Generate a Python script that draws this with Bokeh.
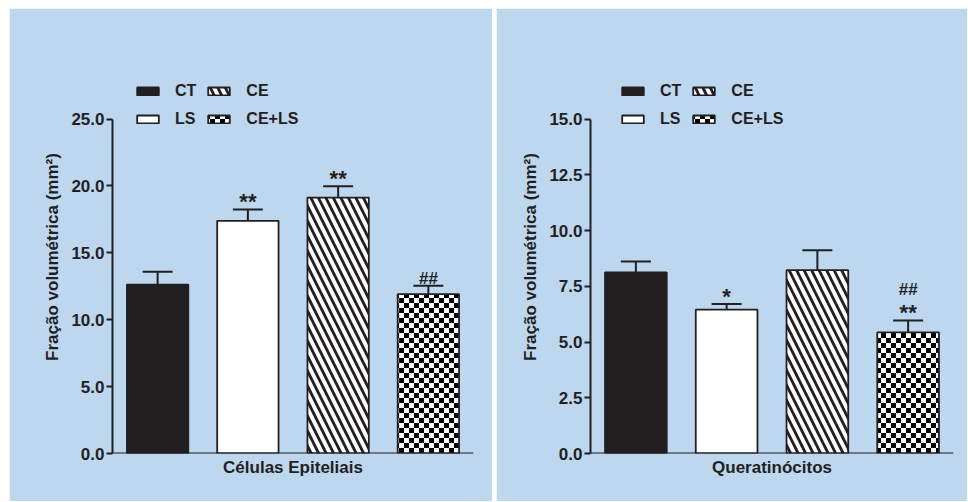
import base64
from bokeh.plotting import figure
from bokeh.layouts import row
from bokeh.models import (ColumnDataSource, FactorRange, Range1d, FixedTicker,
                          NumeralTickFormatter, Legend, LegendItem, Whisker,
                          TeeHead, ImageURLTexture, Span, Title)
from bokeh.core.properties import value
from bokeh.embed import file_html
from bokeh.resources import INLINE

# ---------------- data ----------------
groups = ["CT", "LS", "CE", "CE+LS"]
epit_values = [12.63, 17.39, 19.13, 11.92]
epit_errors = [0.95, 0.84, 0.85, 0.62]
epit_stars = ["", "**", "**", ""]
epit_hashes = ["", "", "", "##"]
epit_ticks = [0, 5, 10, 15, 20, 25]

querat_values = [8.12, 6.45, 8.22, 5.43]
querat_errors = [0.49, 0.25, 0.90, 0.53]
querat_stars = ["", "*", "", "**"]
querat_hashes = ["", "", "", "##"]
querat_ticks = [0, 2.5, 5, 7.5, 10, 12.5, 15]

titles = ["Células Epiteliais", "Queratinócitos"]
ylabel = "Fração volumétrica (mm²)"

# ---------------- style ----------------
BG = "#BDD7EE"
INK = "#231F20"
FONT = "Liberation Sans"
fills = [INK, "white", "white", "white"]

svg_tile = ('<svg xmlns="http://www.w3.org/2000/svg" width="10" height="10">'
            '<rect width="10" height="10" fill="white"/>'
            '<rect x="0" y="0" width="5" height="5" fill="black"/>'
            '<rect x="5" y="5" width="5" height="5" fill="black"/></svg>')
chk_url = "data:image/svg+xml;base64," + base64.b64encode(svg_tile.encode()).decode()
hatches = ["blank", "blank", "left_diagonal_line", "chk"]


def make_panel(vals, errs, stars, hashes, ticks, xlabel, width, border_left,
               border_right, legend_x):
    ymax = ticks[-1]
    frame_top_extra = 1.175  # room above axis for legend
    src = ColumnDataSource(dict(
        g=groups, v=vals, e=errs,
        up=[a + b for a, b in zip(vals, errs)],
        s=stars, h=hashes, fill=fills, hatch=hatches,
        hoff=[-31 if s else -7 for s in stars],
    ))
    p = figure(width=width, height=493, output_backend="svg", toolbar_location=None,
               x_range=FactorRange(*groups, range_padding=0),
               y_range=Range1d(0, ymax * frame_top_extra),
               min_border_left=border_left, min_border_right=border_right,
               min_border_top=52, min_border_bottom=48,
               background_fill_color=BG, border_fill_color=BG,
               outline_line_color=BG, outline_line_width=2)
    p.grid.visible = False

    r = p.vbar(x="g", top="v", width=0.68, source=src, fill_color="fill",
               line_color=INK, line_width=1.8,
               hatch_pattern="hatch", hatch_color=INK, hatch_scale=15,
               hatch_weight=2.8,
               hatch_extra={"chk": ImageURLTexture(url=chk_url)})

    w = Whisker(base="g", lower="v", upper="up", source=src, dimension="height",
                line_color=INK, line_width=2,
                upper_head=TeeHead(size=30, line_color=INK, line_width=2),
                lower_head=None)
    p.add_layout(w)

    p.text(x="g", y="up", text="s", source=src, text_align="center",
           text_baseline="alphabetic", y_offset=-8, text_font=value(FONT),
           text_font_style="bold", text_font_size="22px", text_color=INK)
    p.text(x="g", y="up", text="h", source=src, text_align="center",
           text_baseline="alphabetic", y_offset="hoff", text_font=value(FONT),
           text_font_style="bold", text_font_size="17px", text_color=INK)

    # x axis: plain line at zero plus a centred label underneath
    p.xaxis.visible = False
    p.add_layout(Span(location=0, dimension="width", line_color=INK, line_width=2))
    p.add_layout(Title(text=xlabel, align="center", text_font=FONT,
                       text_font_style="bold", text_font_size="17px",
                       text_color=INK, standoff=4), "below")

    ya = p.yaxis[0]
    ya.bounds = (0, ymax)
    ya.ticker = FixedTicker(ticks=ticks)
    ya.formatter = NumeralTickFormatter(format="0.0")
    ya.minor_tick_line_color = None
    ya.major_tick_in = 0
    ya.major_tick_out = 6
    ya.major_tick_line_width = 2
    ya.major_tick_line_color = INK
    ya.axis_line_width = 2
    ya.axis_line_color = INK
    ya.major_label_text_font = FONT
    ya.major_label_text_font_style = "bold"
    ya.major_label_text_font_size = "17px"
    ya.major_label_text_color = INK
    ya.major_label_standoff = 2
    ya.axis_label = ylabel
    ya.axis_label_text_font = FONT
    ya.axis_label_text_font_style = "bold"
    ya.axis_label_text_font_size = "17px"
    ya.axis_label_text_color = INK
    ya.axis_label_standoff = 6

    items = [LegendItem(label=groups[i], renderers=[r], index=i) for i in (0, 2, 1, 3)]
    leg = Legend(items=items, orientation="horizontal", ncols=2,
                 location=(legend_x, 325), background_fill_alpha=0,
                 border_line_color=None, padding=0, margin=0, spacing=9,
                 glyph_width=27, glyph_height=10, label_standoff=14,
                 label_text_font=FONT, label_text_font_style="bold",
                 label_text_font_size="16px", label_text_color=INK,
                 label_height=19)
    p.add_layout(leg)
    return p


p1 = make_panel(epit_values, epit_errors, epit_stars, epit_hashes, epit_ticks,
                titles[0], 483, 103, 19, 22)
p2 = make_panel(querat_values, querat_errors, querat_stars, querat_hashes,
                querat_ticks, titles[1], 471, 94, 14, 29)

layout = row(p1, p2, spacing=4, margin=(8, 0, 0, 9))
open("out.html", "w").write(file_html(layout, INLINE))
